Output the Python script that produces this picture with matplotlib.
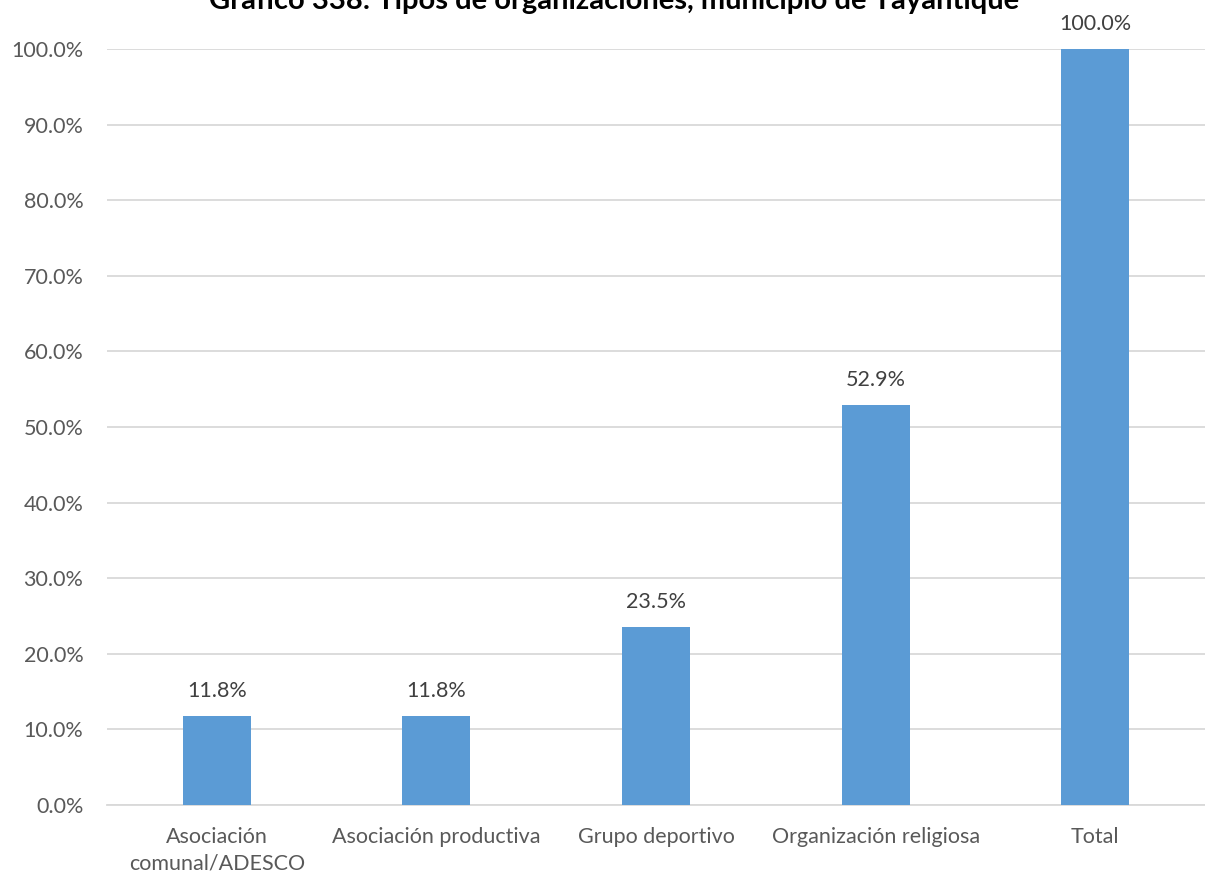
import matplotlib
matplotlib.use("Agg")
import matplotlib.pyplot as plt
from matplotlib.ticker import FuncFormatter, MultipleLocator

categories = ["Asociación\ncomunal/ADESCO", "Asociación productiva", "Grupo deportivo",
              "Organización religiosa", "Total"]
values = [11.8, 11.8, 23.5, 52.9, 100.0]
title = "Gráfico 338: Tipos de organizaciones, municipio de Tayantique"

plt.rcParams['font.family'] = ['Lato', 'DejaVu Sans']

W, H = 1205, 891
fig = plt.figure(figsize=(W/100, H/100), dpi=100)
ax = fig.add_axes([107/W, 1-805/H, (1205-107)/W, (805-49)/H])

x = list(range(len(categories)))
ax.bar(x, values, width=0.31, color="#5B9BD5", zorder=3)
for xi, v in zip(x, values):
    ax.text(xi, v + 2.0, f"{v:.1f}%", ha="center", va="bottom", fontsize=15.5, color="#404040")

ax.set_xlim(-0.5, len(categories) - 0.5)
ax.set_ylim(0, 100)
ax.yaxis.set_major_locator(MultipleLocator(10))
ax.yaxis.set_major_formatter(FuncFormatter(lambda v, p: f"{v:.1f}%"))
ax.grid(axis="y", color="#D9D9D9", linewidth=1.3, zorder=0)
ax.set_xticks(x)
ax.set_xticklabels(categories, fontsize=15.5, color="#595959", linespacing=1.4)
ax.tick_params(axis="y", labelsize=15.5, labelcolor="#595959", length=0, pad=17)
ax.tick_params(axis="x", length=0, pad=16)
for s in ["top", "right", "left"]:
    ax.spines[s].set_visible(False)
ax.spines["bottom"].set_color("#D9D9D9")
ax.spines["bottom"].set_linewidth(1.3)

fig.text(614/W, 1 - 9/H, title, ha="center", va="baseline", fontsize=21,
         fontweight="bold", color="black")

fig.savefig("out.png", dpi=100)
